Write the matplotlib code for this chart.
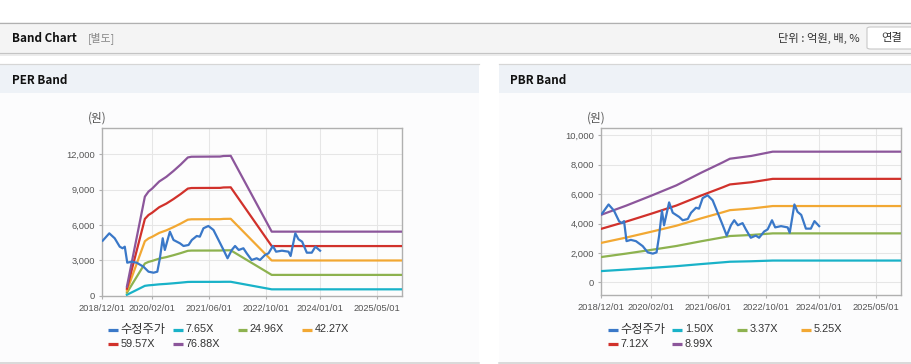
import matplotlib
matplotlib.use('Agg')
import matplotlib.pyplot as plt
from matplotlib.patches import Rectangle, FancyBboxPatch
from matplotlib.lines import Line2D
from matplotlib.ticker import FuncFormatter
import pandas as pd

W, H = 912, 364

# ---------------- data ----------------
price_label = '수정주가'
price_dates = ['2018-12-07', '2019-02-01', '2019-03-19', '2019-05-01', '2019-05-25', '2019-06-13',
               '2019-07-04', '2019-08-10', '2019-09-22', '2019-11-19', '2020-01-01', '2020-02-13',
               '2020-03-16', '2020-04-07', '2020-05-01', '2020-05-19', '2020-07-01', '2020-08-01',
               '2020-09-25', '2020-10-25', '2020-12-07', '2021-01-04', '2021-02-15', '2021-03-13',
               '2021-04-13', '2021-05-25', '2021-07-07', '2021-08-19', '2021-10-01', '2021-11-04',
               '2021-12-10', '2022-01-07', '2022-02-07', '2022-03-19', '2022-04-16', '2022-05-28',
               '2022-07-10', '2022-08-07', '2022-09-19', '2022-10-19', '2022-11-25', '2022-12-22',
               '2023-02-10', '2023-04-07', '2023-04-25', '2023-06-04', '2023-07-01', '2023-08-01',
               '2023-09-10', '2023-10-22', '2023-11-22', '2024-01-01']
price_values = [4675, 5300, 4880, 4165, 4030, 4165,
                2805, 2890, 2805, 2465, 2040, 1955,
                2040, 3180, 4880, 3885, 5440, 4735,
                4450, 4225, 4310, 4735, 5075, 5015,
                5730, 5925, 5585, 4735, 3885, 3180,
                3885, 4225, 3885, 4030, 3605, 3035,
                3180, 3035, 3460, 3605, 4225, 3740,
                3825, 3740, 3375, 5300, 4795, 4590,
                3655, 3655, 4165, 3825]

per_band_dates = ['2019-07-01', '2019-12-01', '2020-01-01', '2020-02-01', '2020-04-01', '2020-06-01',
                  '2020-08-01', '2020-10-01', '2020-12-01', '2021-01-01', '2021-09-01', '2021-10-01',
                  '2021-12-01', '2022-11-15', '2025-12-01']
per_eps = [10.0, 109.5, 115.1, 118.4, 126.2, 131.4,
           137.9, 145.0, 152.8, 153.6, 153.8, 154.4,
           154.6, 70.8, 70.8]
per_multiples = [7.65, 24.96, 42.27, 59.57, 76.88]

pbr_band_dates = ['2018-12-01', '2019-07-01', '2020-02-01', '2020-09-01', '2021-04-01', '2021-10-01',
                  '2021-12-01', '2022-06-01', '2022-12-01', '2025-12-01']
pbr_bps = [511.7, 580.6, 656.3, 734.1, 830.0, 908.0,
           935.5, 956.6, 988.9, 988.9]
pbr_multiples = [1.50, 3.37, 5.25, 7.12, 8.99]

x_tick_dates = ['2018-12-01', '2020-02-01', '2021-06-01', '2022-10-01', '2024-01-01', '2025-05-01']
x_tick_labels = ['2018/12/01', '2020/02/01', '2021/06/01', '2022/10/01', '2024/01/01', '2025/05/01']
x_range = ['2018-12-01', '2025-12-01']

per_yticks = [0, 3000, 6000, 9000, 12000]
per_ylim = (0, 14250)
pbr_yticks = [0, 2000, 4000, 6000, 8000, 10000]
pbr_ylim = (-880, 10480)

price_color = '#3a78c8'
band_colors = ['#19b2c8', '#8db24f', '#f2a833', '#d1312b', '#8c569b']

# ---------------- figure ----------------
fig = plt.figure(figsize=(W / 100, H / 100), dpi=100)
fig.patch.set_facecolor('white')

def fx(px):
    return px / W

def fy(py):
    return 1 - py / H

def rect(x0, y0, x1, y1, fc, ec='none', lw=0):
    fig.add_artist(Rectangle((fx(x0), fy(y1)), (x1 - x0) / W, (y1 - y0) / H,
                             transform=fig.transFigure, facecolor=fc, edgecolor=ec, lw=lw,
                             zorder=-10))

def hline(x0, x1, y, color, lw=1.0):
    fig.add_artist(Line2D([fx(x0), fx(x1)], [fy(y), fy(y)], transform=fig.transFigure,
                          color=color, lw=lw * 0.72, zorder=-9))

def text(x, y, s, **kw):
    fig.text(fx(x), fy(y), s, **kw)

LAT = ['Liberation Sans', 'Noto Sans CJK KR']
KR = ['Noto Sans CJK KR', 'DejaVu Sans']
BOLD = ['Noto Sans CJK KR', 'DejaVu Sans']

# top header bar
rect(0, 22, W, 53, '#f4f4f4')
hline(0, W, 22.5, '#b0b0b0', 1.2)
hline(0, W, 53, '#c4c4c4', 1.2)
hline(0, W, 54.5, '#e6e6e6', 1.5)
text(12, 38.5, 'Band Chart', fontsize=8.4, fontweight='bold', family=BOLD,
     color='#111111', va='center', ha='left')
text(88, 38.5, '[별도]', fontsize=7.8, family=KR, color='#888888', va='center', ha='left')
text(860, 38.5, '단위 : 억원, 배, %', fontsize=8.1, family=KR, color='#333333', va='center', ha='right')
fig.add_artist(FancyBboxPatch((fx(867), fy(49)), (50) / W, (22) / H,
                              boxstyle='round,pad=0,rounding_size=0.004', transform=fig.transFigure,
                              facecolor='white', edgecolor='#c8c8c8', lw=0.8, zorder=-8))
text(892, 38.5, '연결', fontsize=8.1, family=KR, color='#333333', va='center', ha='center')

# panels
panels = [(0, 479), (499, W)]
for (p0, p1) in panels:
    rect(p0, 64, p1, 93, '#eef2f7')
    rect(p0, 93, p1, 362, '#fcfcfd')
    hline(p0, p1, 64.3, '#d6d6d6', 1.2)
    hline(p0, p1, 362.8, '#cfcfcf', 1.5)

text(12, 80, 'PER Band', fontsize=8.4, fontweight='bold', family=BOLD,
     color='#111111', va='center', ha='left')
text(510, 80, 'PBR Band', fontsize=8.4, fontweight='bold', family=BOLD,
     color='#111111', va='center', ha='left')


def make_axes(x0, y0, x1, y1):
    return fig.add_axes([fx(x0), fy(y1), (x1 - x0) / W, (y1 - y0) / H])


def setup(ax, yticks, ylim):
    ax.set_facecolor('#fdfdfd')
    ax.set_xlim(pd.to_datetime(x_range[0]), pd.to_datetime(x_range[1]))
    ax.set_ylim(*ylim)
    ax.set_xticks(pd.to_datetime(x_tick_dates))
    ax.set_xticklabels(x_tick_labels)
    ax.set_yticks(yticks)
    ax.yaxis.set_major_formatter(FuncFormatter(lambda v, p: f'{int(v):,}'))
    ax.grid(True, color='#e6e6e6', lw=0.75)
    ax.set_axisbelow(True)
    for s in ax.spines.values():
        s.set_color('#b0b0b0')
        s.set_linewidth(1.0)
    ax.tick_params(axis='both', length=2.5, width=0.8, color='#b0b0b0',
                   labelcolor='#555555', labelsize=6.7)
    ax.tick_params(axis='x', pad=3.2)
    ax.tick_params(axis='y', pad=2.5)
    for lab in ax.get_xticklabels() + ax.get_yticklabels():
        lab.set_family(LAT)


def legend(ax_left, entries):
    for i, (lab, col) in enumerate(entries):
        c = i % 4
        r = i // 4
        x0 = ax_left + 6.3 + 64.6 * c
        y = 329.5 + 14.7 * r
        fig.add_artist(Line2D([fx(x0), fx(x0 + 10)], [fy(y), fy(y)], transform=fig.transFigure,
                              color=col, lw=2.3, solid_capstyle='butt'))
        size = 8.8 if lab == price_label else 7.8
        text(x0 + 12.5, y, lab, fontsize=size, family=LAT, color='#333333', va='center', ha='left')


pdates = pd.to_datetime(price_dates)

# PER chart
ax1 = make_axes(102, 128, 402.3, 295.7)
setup(ax1, per_yticks, per_ylim)
bd = pd.to_datetime(per_band_dates)
for m, col in zip(per_multiples, band_colors):
    ax1.plot(bd, [e * m for e in per_eps], color=col, lw=1.6, zorder=3)
ax1.plot(pdates, price_values, color=price_color, lw=1.6, zorder=4)
text(97, 118, '(원)', fontsize=8.4, family=KR, color='#555555', va='center', ha='center')
legend(102, [(price_label, price_color)] + [(f'{m:.2f}X', c) for m, c in zip(per_multiples, band_colors)])

# PBR chart
ax2 = make_axes(601.3, 128.3, 901.3, 295.3)
setup(ax2, pbr_yticks, pbr_ylim)
bd2 = pd.to_datetime(pbr_band_dates)
for m, col in zip(pbr_multiples, band_colors):
    ax2.plot(bd2, [b * m for b in pbr_bps], color=col, lw=1.6, zorder=3)
ax2.plot(pdates, price_values, color=price_color, lw=1.6, zorder=4)
text(596.5, 118, '(원)', fontsize=8.4, family=KR, color='#555555', va='center', ha='center')
legend(601.3, [(price_label, price_color)] + [(f'{m:.2f}X', c) for m, c in zip(pbr_multiples, band_colors)])

fig.savefig('out.png', dpi=100)
